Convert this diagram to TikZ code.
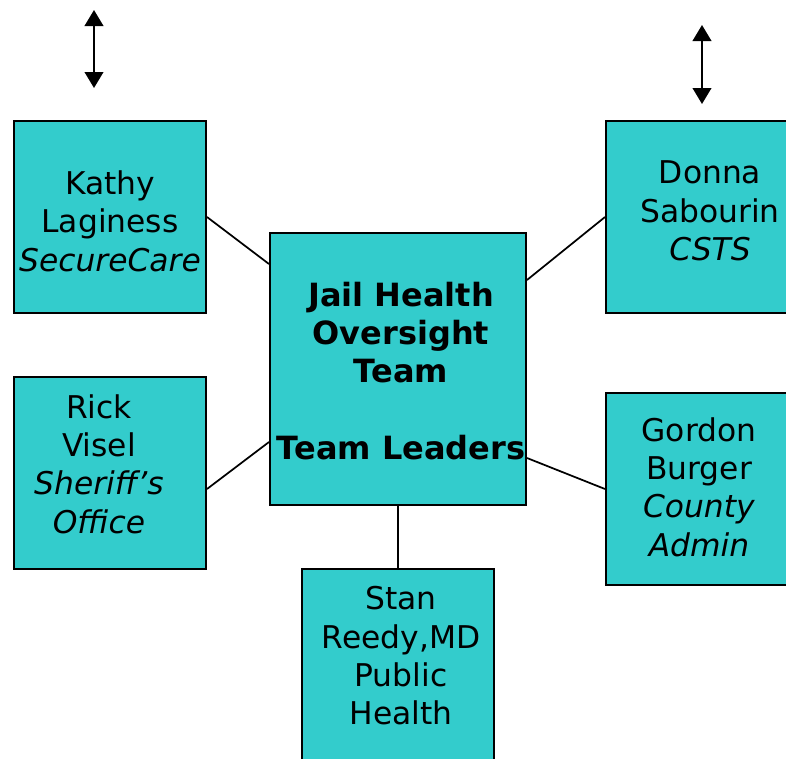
\documentclass[tikz,border=0pt]{standalone}
\usepackage{fontspec}
\setmainfont{DejaVu Sans}
\usetikzlibrary{calc,arrows.meta,positioning}
\definecolor{boxcyan}{HTML}{33CCCC}
\tikzset{
    person/.style={draw, line width=1.5pt, fill=boxcyan, minimum width=144pt, minimum height=144pt, inner sep=0pt},
    persontext/.style={align=center, font=\fontsize{23.5}{28.75}\selectfont, inner sep=0pt},
    link/.style={line width=1.3pt},
    dblarrow/.style={line width=1.5pt, {Triangle[width=14pt,length=12pt]}-{Triangle[width=14pt,length=12pt]}}
}

\begin{document}
\begin{tikzpicture}[x=0.75pt,y=-0.75pt]
    \useasboundingbox (0,0) rectangle (786,758);
    \clip (0,0) rectangle (786,758);

    % team boxes
    \node[person] (kathy) at (110,217) {};
    \node[person] (donna) at (702,217) {};
    \node[person] (rick) at (110,473) {};
    \node[person] (gordon) at (702,489) {};
    \node[person] (stan) at (398,665) {};
    \node[person, minimum width=192pt, minimum height=204pt, align=center]
        (jho) at (398,369) {};
    \node[persontext, font=\bfseries\fontsize{24}{28.75}\selectfont] (jhotext) at ($(jho.center)+(3,2)$)
        {Jail Health\\Oversight\\Team\\[28.75pt]Team Leaders};

    % names
    \node[persontext] (kathytext) at ($(kathy.center)+(0,4)$) {Kathy\\Laginess\\\textit{SecureCare}};
    \node[persontext] (donnatext) at ($(donna.center)+(8,-6)$) {Donna\\Sabourin\\\textit{CSTS}};
    \node[persontext] (ricktext) at ($(rick.center)+(-11,-9)$) {Rick\\Visel\\\textit{Sheriff’s}\\\textit{Office}};
    \node[persontext] (gordontext) at ($(gordon.center)+(-3,-2)$) {Gordon\\Burger\\\textit{County}\\\textit{Admin}};
    \node[persontext] (stantext) at ($(stan.center)+(3,-9)$) {Stan\\Reedy,MD\\Public\\Health};

    % links to the team
    \draw[link] (kathy.east) -- ($(jho.north west)+(0,32)$);
    \draw[link] (donna.west) -- ($(jho.north east)+(0,48)$);
    \draw[link] ($(rick.east)+(0,16)$) -- ($(jho.south west)+(0,-64)$);
    \draw[link] (gordon.west) -- ($(jho.south east)+(0,-48)$);
    \draw[link] (stan.north) -- (jho.south);

    % free arrows
    \coordinate (lefttop) at (94,10);
    \coordinate (leftbot) at (94,88);
    \coordinate (righttop) at (702,25);
    \coordinate (rightbot) at (702,104);
    \draw[dblarrow] (lefttop) -- (leftbot);
    \draw[dblarrow] (righttop) -- (rightbot);
\end{tikzpicture}
\end{document}
